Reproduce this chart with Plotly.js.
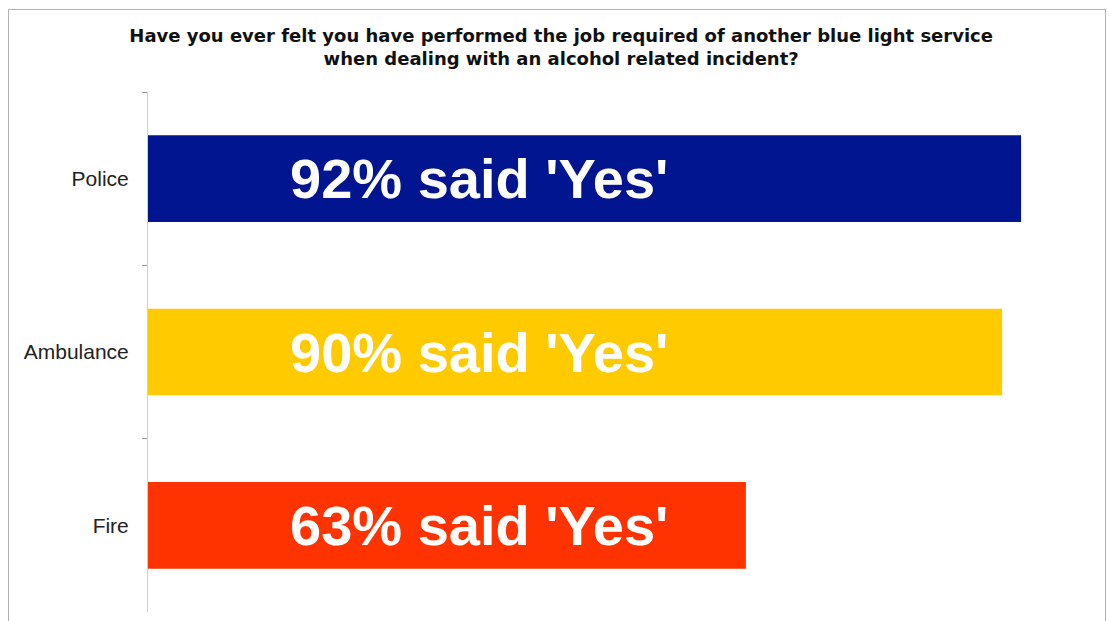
<!DOCTYPE html>
<html>
<head>
<meta charset="utf-8">
<script src="https://cdn.plot.ly/plotly-3.0.1.min.js"></script>
<style>
  html, body { margin: 0; padding: 0; background: #ffffff; }
  #wrap { position: relative; width: 1109px; height: 621px; overflow: hidden; }
  #chart { position: absolute; left: 0; top: 0; width: 1109px; height: 621px; }
  #frame { position: absolute; left: 8px; top: 9px; width: 1096px; height: 700px;
           border: 1px solid #b4b4b4; pointer-events: none; }
</style>
</head>
<body>
<div id="wrap">
  <div id="chart"></div>
  <div id="frame"></div>
</div>
<script>
// ---- data ----
const categories = ['Police', 'Ambulance', 'Fire'];
const yesShare = [0.92, 0.90, 0.63];
const titleLines = [
  'Have you ever felt you have performed the job required of another blue light service',
  'when dealing with an alcohol related incident?'
];

// ---- styles ----
const barColors = ['#021590', '#FFCA00', '#FF3300'];
const sans = 'Liberation Sans, Arial, Helvetica, sans-serif';

const trace = {
  type: 'bar',
  orientation: 'h',
  x: yesShare,
  y: categories,
  marker: { color: barColors, line: { width: 0 } },
  hoverinfo: 'none',
  showlegend: false
};

const annotations = categories.map((c, i) => ({
  x: 0.147,
  y: c,
  xref: 'x',
  yref: 'y',
  xanchor: 'left',
  yanchor: 'middle',
  text: Math.round(yesShare[i] * 100) + "% said 'Yes'",
  showarrow: false,
  font: { family: sans, size: 56, color: '#ffffff', weight: 'bold' }
}));

const layout = {
  width: 1109,
  height: 621,
  margin: { l: 148, r: 12, t: 92, b: 9, pad: 0 },
  paper_bgcolor: '#ffffff',
  plot_bgcolor: '#ffffff',
  bargap: 0.5,
  title: {
    text: '<b>' + titleLines.join('<br>') + '</b>',
    x: 0.506,
    xanchor: 'center',
    y: 0.933,
    yanchor: 'top',
    font: { family: 'DejaVu Sans, sans-serif', size: 18, color: '#111111' }
  },
  xaxis: {
    range: [0, 1],
    visible: false,
    fixedrange: true
  },
  yaxis: {
    type: 'category',
    range: [2.5, -0.5],
    tickson: 'boundaries',
    ticks: 'outside',
    ticklen: 5,
    tickwidth: 1,
    tickcolor: '#9a9a9a',
    showline: true,
    linecolor: '#cfcfcf',
    linewidth: 1,
    showgrid: false,
    zeroline: false,
    ticklabelstandoff: 14,
    tickfont: { family: sans, size: 21, color: '#222222' },
    fixedrange: true
  },
  annotations: annotations
};

Plotly.newPlot('chart', [trace], layout, { displayModeBar: false, staticPlot: true });
</script>
</body>
</html>
